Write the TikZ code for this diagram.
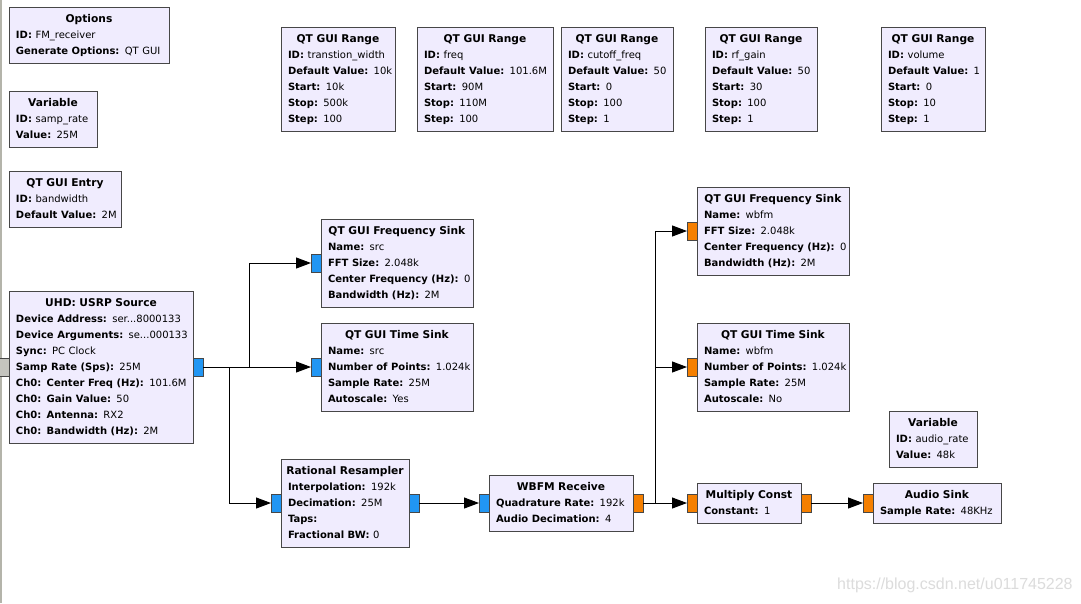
\documentclass[tikz,border=0pt]{standalone}
\usepackage{fontspec}
\setmainfont{DejaVu Sans}
\newfontfamily\wmfamily{Liberation Sans}
\usepackage{xcolor}
\usepackage{tikz}
\usetikzlibrary{positioning,arrows.meta}

\definecolor{blkc}{HTML}{F0ECFE}
\definecolor{bordc}{HTML}{474747}
\definecolor{cplxc}{HTML}{2196F3}
\definecolor{fltc}{HTML}{F57F00}
\definecolor{idlec}{HTML}{C4C4BE}
\definecolor{edgec}{HTML}{B4B4AA}
\definecolor{wmc}{HTML}{DCDCDC}

\newcommand{\blkfont}{\fontsize{10.67}{16}\selectfont}
\newcommand{\ttl}[1]{\makebox[\hsize]{\strut\textbf{#1}}}
\newcommand{\kv}[2]{\mbox{\fontsize{10}{16}\selectfont\strut\textbf{#1:} #2}}

\begin{document}
\begin{tikzpicture}[
      x=1pt, y=-1pt,
      blk/.style={draw=bordc, fill=blkc, line width=1pt, inner xsep=7pt, inner ysep=4pt,
        outer sep=0pt, anchor=north west, align=left, font=\blkfont},
      port/.style={draw=bordc, line width=1pt, minimum width=10pt, minimum height=18pt,
        inner sep=0pt, outer sep=0pt},
      cplx/.style={port, fill=cplxc},
      flt/.style={port, fill=fltc},
      arr/.style={-{Triangle[length=15pt,width=11pt]}, line width=1pt},
      node distance=0pt,
    ]
    \fill[white] (0,0) rectangle (1081,603);
    \useasboundingbox (0,0) rectangle (1081,603);
    \draw[edgec, line width=1.5pt] (0.75,0) -- (0.75,603);

    % variables and gui controls
    \node[blk, text width=146pt] (opts) at (9,7) {\ttl{Options}\\\kv{ID}{FM\_receiver}\\\kv{Generate Options}{QT GUI}};
    \node[blk, text width=74pt] (samp) at (9,91) {\ttl{Variable}\\\kv{ID}{samp\_rate}\\\kv{Value}{25M}};
    \node[blk, text width=98pt] (bw) at (9,171) {\ttl{QT GUI Entry}\\\kv{ID}{bandwidth}\\\kv{Default Value}{2M}};
    \node[blk, text width=100pt] (rng1) at (281,27) {\ttl{QT GUI Range}\\\kv{ID}{transtion\_width}\\\kv{Default Value}{10k}\\\kv{Start}{10k}\\\kv{Stop}{500k}\\\kv{Step}{100}};
    \node[blk, text width=122pt] (rng2) at (417,27) {\ttl{QT GUI Range}\\\kv{ID}{freq}\\\kv{Default Value}{101.6M}\\\kv{Start}{90M}\\\kv{Stop}{110M}\\\kv{Step}{100}};
    \node[blk, text width=98pt] (rng3) at (561,27) {\ttl{QT GUI Range}\\\kv{ID}{cutoff\_freq}\\\kv{Default Value}{50}\\\kv{Start}{0}\\\kv{Stop}{100}\\\kv{Step}{1}};
    \node[blk, text width=98pt] (rng4) at (705,27) {\ttl{QT GUI Range}\\\kv{ID}{rf\_gain}\\\kv{Default Value}{50}\\\kv{Start}{30}\\\kv{Stop}{100}\\\kv{Step}{1}};
    \node[blk, text width=90pt] (rng5) at (881,27) {\ttl{QT GUI Range}\\\kv{ID}{volume}\\\kv{Default Value}{1}\\\kv{Start}{0}\\\kv{Stop}{10}\\\kv{Step}{1}};
    \node[blk, text width=74pt] (arate) at (889,411) {\ttl{Variable}\\\kv{ID}{audio\_rate}\\\kv{Value}{48k}};

    % signal blocks
    \node[blk, text width=170pt] (usrp) at (9,291) {\ttl{UHD: USRP Source}\\\kv{Device Address}{ser...8000133}\\\kv{Device Arguments}{se...000133}\\\kv{Sync}{PC Clock}\\\kv{Samp Rate (Sps)}{25M}\\\kv{Ch0: Center Freq (Hz)}{101.6M}\\\kv{Ch0: Gain Value}{50}\\\kv{Ch0: Antenna}{RX2}\\\kv{Ch0: Bandwidth (Hz)}{2M}};
    \node[blk, text width=138pt] (fsnk1) at (321,219) {\ttl{QT GUI Frequency Sink}\\\kv{Name}{src}\\\kv{FFT Size}{2.048k}\\\kv{Center Frequency (Hz)}{0}\\\kv{Bandwidth (Hz)}{2M}};
    \node[blk, text width=138pt] (tsnk1) at (321,323) {\ttl{QT GUI Time Sink}\\\kv{Name}{src}\\\kv{Number of Points}{1.024k}\\\kv{Sample Rate}{25M}\\\kv{Autoscale}{Yes}};
    \node[blk, text width=114pt] (rsmp) at (281,459) {\ttl{Rational Resampler}\\\kv{Interpolation}{192k}\\\kv{Decimation}{25M}\\\kv{Taps}{}\\\kv{Fractional BW}{0}};
    \node[blk, text width=130pt] (wbfm) at (489,475) {\ttl{WBFM Receive}\\\kv{Quadrature Rate}{192k}\\\kv{Audio Decimation}{4}};
    \node[blk, text width=138pt] (fsnk2) at (697,187) {\ttl{QT GUI Frequency Sink}\\\kv{Name}{wbfm}\\\kv{FFT Size}{2.048k}\\\kv{Center Frequency (Hz)}{0}\\\kv{Bandwidth (Hz)}{2M}};
    \node[blk, text width=138pt] (tsnk2) at (697,323) {\ttl{QT GUI Time Sink}\\\kv{Name}{wbfm}\\\kv{Number of Points}{1.024k}\\\kv{Sample Rate}{25M}\\\kv{Autoscale}{No}};
    \node[blk, text width=90pt] (mult) at (697,483) {\ttl{Multiply Const}\\\kv{Constant}{1}};
    \node[blk, text width=114pt] (asnk) at (873,483) {\ttl{Audio Sink}\\\kv{Sample Rate}{48KHz}};

    % ports
    \node[port, fill=idlec, left=of usrp] (usrpin) {};
    \node[cplx, right=of usrp] (usrpout) {};
    \node[cplx, left=of fsnk1] (fsnk1in) {};
    \node[cplx, left=of tsnk1] (tsnk1in) {};
    \node[cplx, left=of rsmp] (rsmpin) {};
    \node[cplx, right=of rsmp] (rsmpout) {};
    \node[cplx, left=of wbfm] (wbfmin) {};
    \node[flt, right=of wbfm] (wbfmout) {};
    \node[flt, left=of fsnk2] (fsnk2in) {};
    \node[flt, left=of tsnk2] (tsnk2in) {};
    \node[flt, left=of mult] (multin) {};
    \node[flt, right=of mult] (multout) {};
    \node[flt, left=of asnk] (asnkin) {};

    % connections
    \draw[arr] (usrpout) -- (tsnk1in);
    \draw[arr] (usrpout.east) -- ++(46,0) |- (fsnk1in.west);
    \draw[arr] (usrpout.east) -- ++(26,0) |- (rsmpin.west);
    \draw[arr] (rsmpout) -- (wbfmin);
    \draw[arr] (wbfmout) -- (multin);
    \draw[arr] (wbfmout.east) -- ++(12,0) |- (fsnk2in.west);
    \draw[arr] (wbfmout.east) -- ++(12,0) |- (tsnk2in.west);
    \draw[arr] (multout) -- (asnkin);

    \node[anchor=base west, inner sep=0pt, text=wmc, font=\wmfamily\fontsize{16}{18}\selectfont] (mark) at (837,589) {https://blog.csdn.net/u011745228};
  \end{tikzpicture}
\end{document}
